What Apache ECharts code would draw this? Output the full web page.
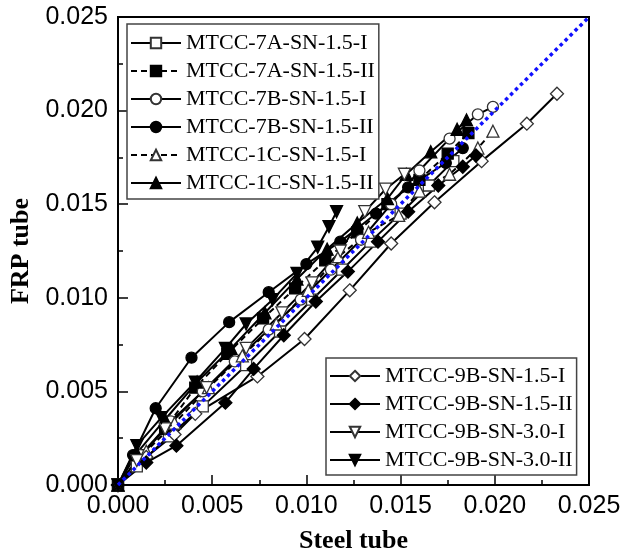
<!DOCTYPE html>
<html>
<head>
<meta charset="utf-8">
<script src="https://cdn.jsdelivr.net/npm/echarts@6/dist/echarts.min.js"></script>
<style>html,body{margin:0;padding:0;background:#fff}#c{width:622px;height:558px}</style>
</head>
<body>
<div id="c"></div>
<script>
// ---- data (steel tube strain, FRP tube strain) ----
const names = [
  'MTCC-7A-SN-1.5-I','MTCC-7A-SN-1.5-II','MTCC-7B-SN-1.5-I','MTCC-7B-SN-1.5-II',
  'MTCC-1C-SN-1.5-I','MTCC-1C-SN-1.5-II',
  'MTCC-9B-SN-1.5-I','MTCC-9B-SN-1.5-II','MTCC-9B-SN-3.0-I','MTCC-9B-SN-3.0-II'
];
const s7A_I = [[0,0],[0.0010,0.0010],[0.0027,0.0026],[0.0045,0.0042],[0.0068,0.0064],[0.0086,0.0082],[0.0103,0.0099],[0.0119,0.0115],[0.0134,0.0130],[0.0150,0.0145],[0.0165,0.0160],[0.0178,0.0173]];
const s7A_II = [[0,0],[0.0012,0.0016],[0.0025,0.0030],[0.0041,0.0052],[0.0058,0.0070],[0.0077,0.0089],[0.0094,0.0105],[0.0110,0.0120],[0.0127,0.0135],[0.0143,0.0150],[0.0160,0.0163],[0.0175,0.0177],[0.0186,0.0188]];
const s7B_I = [[0,0],[0.0012,0.0016],[0.0028,0.0034],[0.0045,0.0050],[0.0062,0.0066],[0.0080,0.0083],[0.0097,0.0099],[0.0113,0.0115],[0.0129,0.0131],[0.0145,0.0150],[0.0160,0.0168],[0.0176,0.0185],[0.0191,0.0198],[0.0199,0.0202]];
const s7B_II = [[0,0],[0.0008,0.0016],[0.0020,0.0041],[0.0039,0.0068],[0.0059,0.0087],[0.0080,0.0103],[0.0100,0.0118],[0.0118,0.0130],[0.0127,0.0137],[0.0137,0.0145],[0.0154,0.0159],[0.0174,0.0172],[0.0183,0.0180]];
const s1C_I = [[0,0],[0.0015,0.0018],[0.0030,0.0033],[0.0048,0.0052],[0.0066,0.0069],[0.0084,0.0086],[0.0101,0.0104],[0.0117,0.0122],[0.0133,0.0135],[0.0149,0.0144],[0.0160,0.0157],[0.0176,0.0166],[0.0191,0.0180],[0.0199,0.0189]];
const s1C_II = [[0,0],[0.0010,0.0017],[0.0025,0.0035],[0.0042,0.0055],[0.0060,0.0073],[0.0078,0.0092],[0.0095,0.0110],[0.0111,0.0126],[0.0127,0.0140],[0.0143,0.0153],[0.0153,0.0166],[0.0166,0.0178],[0.0180,0.0190],[0.0185,0.0195]];
const s9B15_I = [[0,0],[0.0015,0.0015],[0.0030,0.0027],[0.0041,0.0038],[0.0074,0.0058],[0.0099,0.0078],[0.0123,0.0104],[0.0145,0.0129],[0.0168,0.0151],[0.0193,0.0173],[0.0217,0.0193],[0.0233,0.0209]];
const s9B15_II = [[0,0],[0.0015,0.0012],[0.0031,0.0021],[0.0057,0.0044],[0.0072,0.0062],[0.0088,0.0080],[0.0105,0.0098],[0.0122,0.0114],[0.0138,0.0130],[0.0154,0.0146],[0.0170,0.0160],[0.0183,0.0170],[0.0190,0.0176]];
const s9B30_I = [[0,0],[0.0010,0.0013],[0.0025,0.0030],[0.0047,0.0052],[0.0068,0.0073],[0.0087,0.0092],[0.0103,0.0108],[0.0118,0.0125],[0.0131,0.0146],[0.0142,0.0158],[0.0152,0.0166]];
const s9B30_II = [[0,0],[0.0010,0.0021],[0.0023,0.0036],[0.0041,0.0055],[0.0057,0.0073],[0.0068,0.0086],[0.0082,0.0099],[0.0095,0.0113],[0.0106,0.0127],[0.0112,0.0138],[0.0116,0.0146]];
const refLine = [[0,0],[0.025,0.025]];
const xTicks = [0, 0.025, 0.005];
const yTicks = [0, 0.025, 0.005];

const seriesData = [s7A_I,s7A_II,s7B_I,s7B_II,s1C_I,s1C_II,s9B15_I,s9B15_II,s9B30_I,s9B30_II];
const sym = ['rect','rect','circle','circle','triangle','triangle','diamond','diamond','triangle','triangle'];
const filled = [false,true,false,true,false,true,false,true,false,true];
const dashed = [false,true,false,false,true,false,false,false,false,false];
const rot = [0,0,0,0,0,0,0,0,180,180];

const series = seriesData.map((d,i)=>({
  name: names[i], type:'line', data:d, symbol:sym[i], symbolRotate:rot[i],
  symbolSize: sym[i]==='diamond'?13:(sym[i]==='triangle'?12:11),
  showSymbol:true, animation:false,
  lineStyle:{color:'#000', width:2, type: dashed[i]?[6,4]:'solid'},
  itemStyle:{color: filled[i]?'#000':'#fff', borderColor: filled[i]?'#000':'#333', borderWidth:1.3},
  z: 2
}));
series.push({
  name:'ref', type:'line', data:refLine, symbol:'none', animation:false,
  lineStyle:{color:'#1010ff', width:3.5, type:[3.5,3.5]}, z:5
});

const chart = echarts.init(document.getElementById('c'));
const legendCommon = {
  orient:'vertical', itemWidth:50, itemHeight:13, itemGap:6,
  borderColor:'#444', borderWidth:1.5, backgroundColor:'#fff',
  textStyle:{fontFamily:'Liberation Serif', fontSize:22, color:'#000', lineHeight:20.6},
  selectedMode:false
};
chart.setOption({
  animation:false,
  grid:{left:118, right:33, top:17, bottom:73, containLabel:false, outerBoundsMode:'none',
        show:true, borderColor:'#000', borderWidth:2},
  legend:[
    Object.assign({}, legendCommon, {data:names.slice(0,6), left:127, top:24, padding:[8,4,5,3]}),
    Object.assign({}, legendCommon, {data:names.slice(6), left:326, top:358, padding:[7,4,4,3]})
  ],
  xAxis:{
    type:'value', min:xTicks[0], max:xTicks[1], interval:xTicks[2],
    name:'Steel tube', nameLocation:'middle', nameGap:43,
    nameTextStyle:{fontFamily:'Liberation Serif', fontWeight:'bold', fontSize:26, color:'#000'},
    axisLine:{lineStyle:{color:'#000', width:2}},
    axisTick:{inside:true, length:10, lineStyle:{color:'#000', width:1.5}},
    minorTick:{show:true, splitNumber:2, length:5, lineStyle:{color:'#000', width:1.5}},
    splitLine:{show:false},
    axisLabel:{formatter:v=>v.toFixed(3), fontFamily:'Liberation Sans', fontSize:25, color:'#000', margin:9, hideOverlap:false}
  },
  yAxis:{
    type:'value', min:yTicks[0], max:yTicks[1], interval:yTicks[2],
    name:'FRP tube', nameLocation:'middle', nameGap:83,
    nameTextStyle:{fontFamily:'Liberation Serif', fontWeight:'bold', fontSize:26, color:'#000'},
    axisLine:{lineStyle:{color:'#000', width:2}},
    axisTick:{inside:true, length:10, lineStyle:{color:'#000', width:1.5}},
    minorTick:{show:true, splitNumber:2, length:5, lineStyle:{color:'#000', width:1.5}},
    splitLine:{show:false},
    axisLabel:{formatter:v=>v.toFixed(3), fontFamily:'Liberation Sans', fontSize:25, color:'#000', margin:10, hideOverlap:false}
  },
  series: series
});
</script>
</body>
</html>
